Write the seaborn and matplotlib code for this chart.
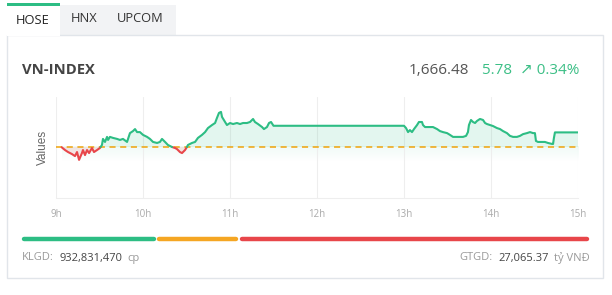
import numpy as np
import pandas as pd
import matplotlib
matplotlib.use("Agg")
import matplotlib.pyplot as plt
import seaborn as sns
from matplotlib.patches import Rectangle

# ---------------- data ----------------
ref_price = 1660.70
close_price = 1666.48
change = 5.78
change_pct = 0.34
hour_ticks = [9, 10, 11, 12, 13, 14, 15]
hour_labels = ["9h", "10h", "11h", "12h", "13h", "14h", "15h"]
tabs = ["HOSE", "HNX", "UPCOM"]
klgd = "932,831,470"
gtgd = "27,065.37"
breadth = [133, 80, 348]  # up / unchanged / down share (bar lengths)

# minutes after 09:00
minutes = [3.9, 6.2, 8.3, 11.0, 13.1, 14.5, 15.9, 17.9, 18.6, 20.0, 21.4, 22.8, 24.8, 26.2,
           28.3, 30.3, 31.7, 32.4, 33.8, 35.2, 35.9, 37.2, 39.3, 42.1, 44.1, 46.2, 49.0,
           51.0, 53.1, 54.5, 55.9, 57.9, 60.0, 62.8, 64.8, 66.9, 69.7, 71.7, 73.1, 75.2,
           77.2, 80.0, 82.1, 83.4, 85.5, 86.9, 87.6, 89.0, 90.3, 91.0, 93.8, 95.9, 97.9,
           100.7, 102.8, 104.8, 107.6, 109.7, 111.0, 112.4, 113.8, 114.5, 116.6, 117.9,
           120.0, 122.1, 124.8, 126.9, 129.0, 131.7, 133.8, 135.9, 137.2, 139.3, 142.1,
           143.4, 145.5, 146.9, 148.3, 150.0, 240.0, 241.4, 242.8, 244.1, 245.5, 246.9,
           249.0, 250.3, 252.4, 253.1, 254.5, 255.9, 257.9, 260.0, 262.8, 264.8, 266.9,
           269.7, 271.7, 273.8, 276.6, 278.6, 280.7, 282.8, 284.1, 284.8, 286.2, 287.6,
           289.0, 290.3, 292.4, 294.5, 295.9, 297.2, 299.3, 301.4, 304.1, 306.2, 308.3,
           311.0, 313.1, 315.2, 317.9, 320.0, 322.1, 324.8, 326.9, 329.0, 330.3, 331.0,
           332.4, 335.2, 337.2, 339.3, 342.1, 342.8, 343.4, 344.1, 360.0]
values = [1660.6, 1659.5, 1658.7, 1657.9, 1657.1, 1658.7, 1655.6, 1658.3, 1659.5, 1657.5,
          1659.5, 1658.3, 1660.3, 1658.7, 1659.5, 1660.3, 1661.5, 1663.9, 1662.7, 1664.7,
          1663.5, 1664.7, 1664.3, 1663.9, 1663.5, 1663.9, 1662.7, 1666.2, 1667.0, 1667.8,
          1666.6, 1666.6, 1665.5, 1664.7, 1663.9, 1662.7, 1662.3, 1662.7, 1663.9, 1662.7,
          1661.5, 1660.7, 1660.3, 1659.9, 1658.7, 1658.3, 1658.7, 1659.5, 1660.7, 1661.5,
          1662.3, 1662.7, 1664.3, 1665.5, 1666.6, 1668.2, 1669.4, 1670.2, 1672.2, 1674.2,
          1674.6, 1672.6, 1670.6, 1669.4, 1670.2, 1669.8, 1670.2, 1669.8, 1670.2, 1670.2,
          1670.6, 1671.8, 1670.6, 1669.8, 1668.6, 1667.8, 1668.6, 1670.2, 1670.6, 1669.1,
          1669.1, 1668.2, 1666.6, 1667.4, 1666.6, 1667.8, 1669.4, 1670.6, 1670.6, 1669.4,
          1668.6, 1668.6, 1668.6, 1668.6, 1667.8, 1667.0, 1666.6, 1666.2, 1665.5, 1664.7,
          1664.7, 1664.7, 1664.7, 1665.1, 1666.6, 1669.4, 1671.4, 1670.6, 1670.2, 1671.0,
          1671.8, 1671.4, 1670.2, 1669.8, 1669.4, 1669.0, 1668.2, 1667.8, 1667.0, 1666.2,
          1665.1, 1664.7, 1664.7, 1665.1, 1665.8, 1666.2, 1666.6, 1666.2, 1666.2, 1663.1,
          1662.7, 1662.7, 1662.7, 1662.3, 1661.9, 1661.9, 1664.3, 1666.48, 1666.48]

GREEN = "#2dbd84"
RED = "#e8464a"
YELLOW = "#f5a623"
DASH = "#f0a30a"

# ---------------- style ----------------
sns.set_theme(style="white")
plt.rcParams["font.family"] = ["Open Sans", "DejaVu Sans"]

W, H = 612, 295
fig = plt.figure(figsize=(W / 100, H / 100), dpi=100)
fig.patch.set_facecolor("white")

bg = fig.add_axes([0, 0, 1, 1], zorder=0)
bg.set_xlim(0, W)
bg.set_ylim(H, 0)
bg.axis("off")

# tabs
bg.add_patch(Rectangle((60, 5), 116, 30, fc="#f2f3f5", ec="none"))
# card
bg.add_patch(Rectangle((7, 35), 596, 243, fc="white", ec="#e1e5ea", lw=1))
bg.add_patch(Rectangle((6.5, 4), 53.5, 32, fc="white", ec="none"))
bg.add_patch(Rectangle((6.5, 3), 53.5, 3, fc=GREEN, ec="none"))
tab_x = [33, 84, 140.5]
for name, x in zip(tabs, tab_x):
    bg.text(x, 21 if name == "HOSE" else 19, name, ha="center", va="center",
            fontsize=9.3, color="#222222" if name == "HOSE" else "#333333")

bg.text(22, 70, "VN-INDEX", ha="left", va="center", fontsize=10.6,
        fontweight="bold", color="#444444")
bg.text(409, 71, f"{close_price:,.2f}", ha="left", va="center", fontsize=11, color="#555555")
bg.text(579, 71, f"{change:.2f}  \u2197 {change_pct:.2f}%", ha="right", va="center",
        fontsize=11, color="#3cbf86")

# breadth bar
x0 = 22
gap = 2.5
for length, col in zip(breadth, [GREEN, YELLOW, RED]):
    bg.plot([x0 + 1.5, x0 + length - 1.5], [239, 239], color=col, lw=3.2,
            solid_capstyle="round")
    x0 += length + gap

fig.canvas.draw()
renderer = fig.canvas.get_renderer()
inv = bg.transData.inverted()


def chain(x, y, parts):
    """place text parts one after another"""
    objs = []
    for txt, col, gp in parts:
        t = bg.text(x, y, txt, ha="left", va="center", fontsize=8, color=col)
        objs.append(t)
        bb = t.get_window_extent(renderer)
        x = inv.transform((bb.x1, bb.y0))[0] + gp
    return objs, x


chain(22, 258, [("KLGD:", "#9a9a9a", 6), (klgd, "#444444", 5), ("cp", "#9a9a9a", 0)])
objs, xend = chain(0, 258, [("GTGD:", "#9a9a9a", 6), (gtgd, "#444444", 5), ("tỷ VNĐ", "#9a9a9a", 0)])
shift = 590 - xend
for t in objs:
    t.set_x(t.get_position()[0] + shift)

# ---------------- chart ----------------
left, right, top, bottom = 56, 578, 97, 198
ax = fig.add_axes([left / W, 1 - bottom / H, (right - left) / W, (bottom - top) / H], zorder=1)
ax.patch.set_alpha(0)

t_h = 9 + np.array(minutes) / 60.0
v = np.array(values)

rows = []
seg = 0
side_prev = v[0] >= ref_price
rows.append((t_h[0], v[0], side_prev, seg))
for i in range(1, len(t_h)):
    side = v[i] >= ref_price
    if side != side_prev:
        tc = t_h[i - 1] + (ref_price - v[i - 1]) * (t_h[i] - t_h[i - 1]) / (v[i] - v[i - 1])
        rows.append((tc, ref_price, side_prev, seg))
        seg += 1
        rows.append((tc, ref_price, side, seg))
        side_prev = side
    rows.append((t_h[i], v[i], side, seg))
df = pd.DataFrame(rows, columns=["t", "v", "up", "seg"])
df["side"] = np.where(df["up"], "up", "down")

ylo, yhi = 1640.5, 1680.5

# fills
ax.fill_between(t_h, v, ref_price, where=v >= ref_price, interpolate=True,
                color=GREEN, alpha=0.13, lw=0)
ax.fill_between(t_h, v, ref_price, where=v < ref_price, interpolate=True,
                color=RED, alpha=0.12, lw=0)
grad = np.zeros((50, 2, 4))
rgb = matplotlib.colors.to_rgb(GREEN)
grad[..., 0], grad[..., 1], grad[..., 2] = rgb
grad[..., 3] = np.linspace(0.07, 0.0, 50)[:, None]
ax.imshow(grad, extent=[t_h[0], 15, ref_price - 6, ref_price], origin="upper",
          aspect="auto", zorder=0.5, interpolation="bilinear")

ax.axhline(ref_price, color=DASH, lw=1.1, dashes=(4, 3), zorder=1.5)

sns.lineplot(data=df, x="t", y="v", hue="side", units="seg", estimator=None,
             palette={"up": GREEN, "down": RED}, lw=1.5, legend=False, ax=ax, sort=False)

ax.set_xlim(9, 15)
ax.set_ylim(ylo, yhi)
ax.set_xticks(hour_ticks)
ax.set_xticklabels(hour_labels)
ax.set_yticks([])
ax.grid(axis="x", color="#eeeeee", lw=0.8)
ax.set_axisbelow(True)
for s in ["top", "right", "left"]:
    ax.spines[s].set_visible(False)
ax.spines["bottom"].set_color("#eeeeee")
ax.spines["bottom"].set_linewidth(0.8)
ax.tick_params(axis="x", length=0, pad=8, labelsize=7, labelcolor="#aaaaaa")
ax.set_xlabel("")
ax.set_ylabel("Values", fontsize=8.5, color="#666666", labelpad=5,
              family=["Liberation Sans", "DejaVu Sans"])

fig.savefig("out.png", dpi=100, facecolor="white")
